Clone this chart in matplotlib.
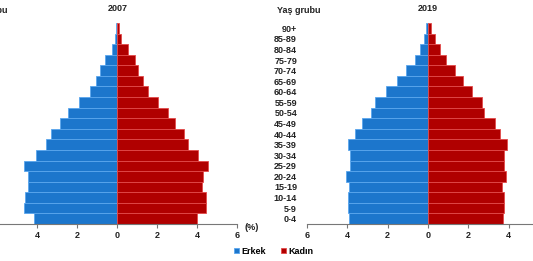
import numpy as np
import matplotlib
matplotlib.use("Agg")
import matplotlib.pyplot as plt

plt.rcParams['font.family'] = ['Liberation Sans', 'DejaVu Sans']
plt.rcParams['font.weight'] = 'bold'

age_groups = ["0-4", "5-9", "10-14", "15-19", "20-24", "25-29", "30-34", "35-39",
              "40-44", "45-49", "50-54", "55-59", "60-64", "65-69", "70-74",
              "75-79", "80-84", "85-89", "90+"]

# percent of population, ordered 0-4 ... 90+
male_2007 = [4.18, 4.67, 4.6, 4.45, 4.45, 4.67, 4.07, 3.58, 3.33, 2.87,
             2.48, 1.92, 1.37, 1.08, 0.87, 0.62, 0.27, 0.1, 0.05]
female_2007 = [4.0, 4.42, 4.42, 4.22, 4.3, 4.55, 4.05, 3.55, 3.33, 2.88,
               2.52, 2.02, 1.55, 1.3, 1.05, 0.9, 0.52, 0.2, 0.1]
male_2019 = [3.9, 3.97, 3.95, 3.93, 4.05, 3.85, 3.85, 3.98, 3.62, 3.29,
             2.84, 2.6, 2.1, 1.54, 1.07, 0.63, 0.38, 0.21, 0.08]
female_2019 = [3.72, 3.75, 3.75, 3.65, 3.88, 3.75, 3.75, 3.93, 3.57, 3.34,
               2.79, 2.68, 2.17, 1.74, 1.34, 0.91, 0.58, 0.36, 0.17]

blue = "#1c76cc"
red = "#b00000"
W, H = 533, 261

fig = plt.figure(figsize=(W / 100, H / 100), dpi=100)

def pyramid(left_px, unit_px, year, male, female, label_x=-7.5):
    ax = fig.add_axes([left_px / W, (H - 224) / H, 12 * unit_px / W, 201 / H])
    y = np.arange(len(age_groups))
    b1 = ax.barh(y, -np.array(male), height=1.0, color=blue, edgecolor="#5aa6ee",
                 linewidth=0.6, label="Erkek")
    b2 = ax.barh(y, female, height=1.0, color=red, edgecolor="#e24a4a",
                 linewidth=0.6, label="Kadın")
    ax.set_xlim(-6, 6)
    ax.set_ylim(-0.5, 18.5)
    ax.set_xticks(np.arange(-6, 7, 2))
    ax.set_xticklabels([str(abs(v)) for v in range(-6, 7, 2)])
    ax.set_yticks(y)
    ax.set_yticklabels(age_groups)
    ax.tick_params(axis='y', length=0, pad=7, labelsize=6.5, labelcolor="#222222")
    ax.tick_params(axis='x', length=3, width=0.8, color="#777777", pad=2,
                   labelsize=6.5, labelcolor="#222222")
    for s in ["top", "right", "left"]:
        ax.spines[s].set_visible(False)
    ax.spines["bottom"].set_color("#777777")
    ax.spines["bottom"].set_linewidth(0.8)
    ax.set_facecolor("none")
    ax.text(0, 1.07, year, transform=ax.get_xaxis_transform(), ha="center",
            va="center", fontsize=6.5, fontweight="bold", color="#222222")
    ax.text(label_x, 1.063, "Yaş grubu", transform=ax.get_xaxis_transform(),
            ha="left", va="center", fontsize=6.5, fontweight="bold", color="#222222")
    ax.text(6.35, -0.018, "(%)", transform=ax.get_xaxis_transform(), ha="left",
            va="center", fontsize=6.5, fontweight="bold", color="#222222")
    return b1, b2

pyramid(-2.7, 20.0, "2007", male_2007, female_2007, label_x=-7.65)
h1, h2 = pyramid(306.8, 20.2, "2019", male_2019, female_2019)

fig.legend(handles=[h1, h2], labels=["Erkek", "Kadın"], ncol=2, frameon=False,
           loc="center", bbox_to_anchor=(274 / W, (H - 251) / H), fontsize=6.5,
           handlelength=0.5, handleheight=0.5, handletextpad=0.3,
           columnspacing=1.7, borderpad=0)

plt.savefig("out.png", dpi=100)
